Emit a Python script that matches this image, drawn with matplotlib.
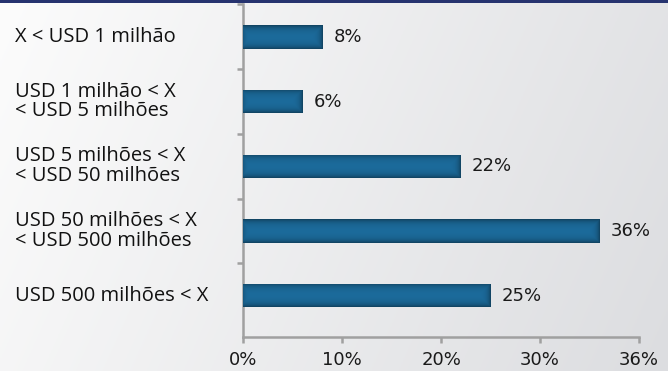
import numpy as np
import matplotlib
matplotlib.use("Agg")
import matplotlib.pyplot as plt
from matplotlib.colors import to_rgb

plt.rcParams['font.family'] = ['DejaVu Sans']

# Portfolio size brackets and share of respondents
categories = [
    "X < USD 1 milhão",
    "USD 1 milhão < X\n< USD 5 milhões",
    "USD 5 milhões < X\n< USD 50 milhões",
    "USD 50 milhões < X\n< USD 500 milhões",
    "USD 500 milhões < X",
]
values = [8, 6, 22, 36, 25]
value_labels = ["8%", "6%", "22%", "36%", "25%"]
x_ticks = [0, 10, 20, 30, 40]
x_tick_labels = ["0%", "10%", "20%", "30%", "36%"]

W, H, DPI = 6.68, 3.71, 100
fig = plt.figure(figsize=(W, H), dpi=DPI)

# Soft light-gray background gradient
bg = fig.add_axes([0, 0, 1, 1], zorder=-10)
gx = np.linspace(0, 1, 300)
gy = np.linspace(0, 1, 170)
GX, GY = np.meshgrid(gx, gy)
t = np.clip(0.8 * GX + 0.2 * GY, 0, 1)
c0 = np.array(to_rgb("#fcfcfc"))
c1 = np.array(to_rgb("#dcdde0"))
img = c0[None, None, :] * (1 - t[..., None]) + c1[None, None, :] * t[..., None]
bg.imshow(img, aspect="auto", extent=(0, 1, 0, 1), origin="upper")
# navy strip along the top edge
bg.add_patch(plt.Rectangle((0, 1 - 3 / 371), 1, 3 / 371, color="#26336f", lw=0))
bg.set_xlim(0, 1)
bg.set_ylim(0, 1)
bg.axis("off")

left, right = 243.3 / 668, 639 / 668
top, bottom = 1 - 4.5 / 371, 1 - 337 / 371
ax = fig.add_axes([left, bottom, right - left, top - bottom])
ax.patch.set_alpha(0)

n = len(categories)
pos = np.arange(n)
bar_h = 0.36
ax.set_xlim(0, 40)
ax.set_ylim(4.638, -0.5)

base = np.array(to_rgb("#1c6c9d"))
bars = ax.barh(pos, values, height=bar_h, color="#1c6c9d", lw=0, zorder=2)

fig.canvas.draw()
for b in bars:
    bb = b.get_window_extent()
    pw, ph = max(int(round(bb.width)), 2), max(int(round(bb.height)), 2)
    xs = np.arange(pw) + 0.5
    ys = np.arange(ph) + 0.5
    XX, YY = np.meshgrid(xs, ys)
    d_tb = np.minimum(YY, ph - YY)
    d_r = pw - XX
    d_l = XX
    dark = np.maximum.reduce([np.exp(-d_tb / 3.2), np.exp(-d_r / 3.2), 0.5 * np.exp(-d_l / 2.5)])
    shade = base[None, None, :] * (1 - 0.42 * dark[..., None])
    x0, y0 = b.get_x(), b.get_y()
    im = ax.imshow(shade, extent=(x0, x0 + b.get_width(), y0 + b.get_height(), y0),
                   aspect="auto", interpolation="bilinear", zorder=3)
    im.set_clip_path(b)

for p, v, lab in zip(pos, values, value_labels):
    ax.annotate(lab, (v, p), xytext=(8, 0), textcoords="offset points",
                ha="left", va="center", fontsize=13, color="#1a1a1a")

# category labels, left aligned near the figure edge
for p, cat in zip(pos, categories):
    ax.annotate(cat, xy=(15 / 668, p), xycoords=("figure fraction", "data"),
                ha="left", va="center", fontsize=14.5, color="#111111",
                family=["Open Sans", "DejaVu Sans"], linespacing=0.98,
                annotation_clip=False)

ax.set_xticks(x_ticks)
ax.set_xticklabels(x_tick_labels, fontsize=13, color="#1a1a1a")
ax.set_yticks(np.arange(-0.5, n - 0.5, 1.0))
ax.set_yticklabels([])

spine_c = "#a0a0a0"
for s in ("top", "right"):
    ax.spines[s].set_visible(False)
for s in ("left", "bottom"):
    ax.spines[s].set_color(spine_c)
    ax.spines[s].set_linewidth(1.8)
ax.tick_params(axis="x", length=4, width=1.8, color=spine_c, pad=6)
ax.tick_params(axis="y", length=4, width=1.8, color=spine_c)

fig.savefig("out.png", dpi=DPI)
